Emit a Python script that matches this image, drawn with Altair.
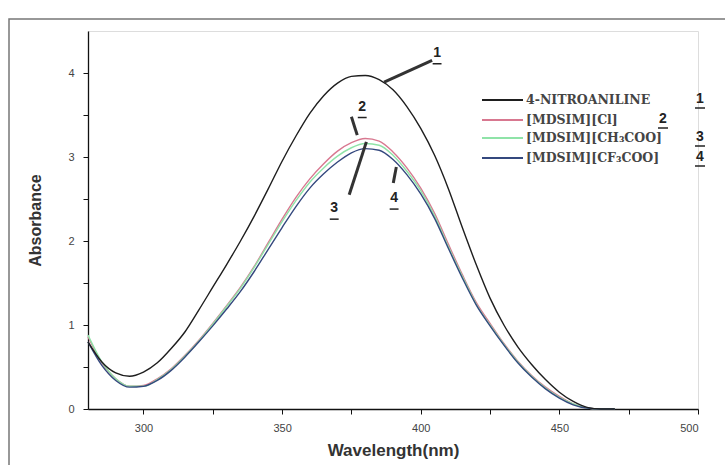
import altair as alt
import pandas as pd

# UV-Vis absorption spectra of 4-nitroaniline alone and with three ionic liquids
wavelength = [280, 285, 290, 295, 300, 305, 310, 315, 320, 325, 330, 335, 340,
              345, 350, 355, 360, 365, 370, 375, 380, 385, 390, 395, 400, 405,
              410, 415, 420, 425, 430, 435, 440, 445, 450, 455, 460, 465, 470]

a_nitroaniline = [0.80, 0.56, 0.43, 0.39, 0.44, 0.55, 0.72, 0.92, 1.18, 1.45, 1.72,
                  2.00, 2.30, 2.62, 2.95, 3.25, 3.52, 3.73, 3.88, 3.96, 3.97, 3.92,
                  3.80, 3.60, 3.34, 3.02, 2.62, 2.16, 1.72, 1.32, 1.00, 0.74, 0.53,
                  0.35, 0.20, 0.09, 0.02, 0.00, 0.00]
a_cl = [0.86, 0.55, 0.36, 0.27, 0.28, 0.36, 0.48, 0.64, 0.82, 1.02, 1.23, 1.45,
        1.70, 1.98, 2.26, 2.52, 2.74, 2.92, 3.07, 3.17, 3.22, 3.19, 3.06, 2.87,
        2.63, 2.33, 1.96, 1.60, 1.27, 1.02, 0.78, 0.57, 0.40, 0.26, 0.15, 0.06,
        0.01, 0.00, 0.00]
a_ch3coo = [0.88, 0.56, 0.36, 0.27, 0.27, 0.35, 0.47, 0.63, 0.81, 1.01, 1.22, 1.44,
            1.69, 1.96, 2.23, 2.48, 2.70, 2.87, 3.01, 3.11, 3.16, 3.14, 3.02, 2.83,
            2.60, 2.30, 1.93, 1.58, 1.25, 1.00, 0.77, 0.56, 0.39, 0.25, 0.14, 0.06,
            0.01, 0.00, 0.00]
a_cf3coo = [0.80, 0.52, 0.34, 0.26, 0.27, 0.34, 0.46, 0.62, 0.80, 0.99, 1.19, 1.40,
            1.64, 1.90, 2.16, 2.41, 2.63, 2.80, 2.94, 3.05, 3.10, 3.08, 2.97, 2.79,
            2.56, 2.27, 1.91, 1.56, 1.24, 0.99, 0.76, 0.55, 0.38, 0.24, 0.13, 0.05,
            0.01, 0.00, 0.00]

series_names = ["4-NITROANILINE", "[MDSIM][Cl]", "[MDSIM][CH\u2083COO]", "[MDSIM][CF\u2083COO]"]
series_numbers = ["1", "2", "3", "4"]
series_colors = ["#1e1e1e", "#d87890", "#8fe3a8", "#34487e"]
series_values = [a_nitroaniline, a_cl, a_ch3coo, a_cf3coo]

# callout numbers placed next to the curves (wavelength, absorbance)
callout_nm = [405.9, 378.9, 368.8, 390.4]
callout_abs = [4.24, 3.60, 2.39, 2.51]
# leader segments from the callout numbers to the curves
leader_nm = [386.8, 375.0, 374.2, 391.2]
leader_abs = [3.89, 3.48, 2.55, 2.88]
leader_nm2 = [404.1, 377.1, 380.4, 390.1]
leader_abs2 = [4.15, 3.26, 3.18, 2.69]

x_ticks = [300, 325, 350, 375, 400, 425, 450, 475, 500]
y_ticks = [0, 0.5, 1, 1.5, 2, 2.5, 3, 3.5, 4]

rows = []
for name, vals in zip(series_names, series_values):
    for w, a in zip(wavelength, vals):
        rows.append({"wavelength": w, "absorbance": a, "series": name})
spectra = pd.DataFrame(rows)

callouts = pd.DataFrame({"num": series_numbers, "nm": callout_nm, "abs": callout_abs,
                         "nm_lo": [v - 1.6 for v in callout_nm],
                         "nm_hi": [v + 1.6 for v in callout_nm],
                         "abs_ul": [v - 0.13 for v in callout_abs]})
leaders = pd.DataFrame({"x1": leader_nm, "y1": leader_abs, "x2": leader_nm2, "y2": leader_abs2})

W, H = 610, 378
x_scale = alt.Scale(domain=[280, 500], nice=False, zero=False)
y_scale = alt.Scale(domain=[0, 4.5], nice=False)

x_axis = alt.Axis(values=x_ticks,
                  labelExpr="datum.value % 50 == 0 ? format(datum.value, 'd') : ''",
                  title="Wavelength(nm)", grid=False, tickSize=5, labelPadding=8,
                  titlePadding=9, titleFontSize=17, titleFontWeight="bold",
                  titleColor="#333", labelFontSize=11, labelColor="#444",
                  domainColor="#111", tickColor="#111", domainWidth=1.3,
                  labelFont="Liberation Sans", titleFont="Liberation Sans")
y_axis = alt.Axis(values=y_ticks,
                  labelExpr="datum.value % 1 == 0 ? format(datum.value, 'd') : ''",
                  title="Absorbance", grid=False, tickSize=5, labelPadding=9,
                  titlePadding=24, titleFontSize=16, titleFontWeight="bold",
                  titleColor="#333", labelFontSize=11, labelColor="#444",
                  domainColor="#111", tickColor="#111", domainWidth=1.3,
                  labelFont="Liberation Sans", titleFont="Liberation Sans")

lines = []
for name, col in zip(series_names[1:] + series_names[:1], series_colors[1:] + series_colors[:1]):
    lines.append(
        alt.Chart(spectra).transform_filter(alt.datum.series == name)
        .mark_line(color=col, strokeWidth=1.4, interpolate="monotone")
        .encode(x=alt.X("wavelength:Q", scale=x_scale, axis=x_axis),
                y=alt.Y("absorbance:Q", scale=y_scale, axis=y_axis))
    )

leader_layer = alt.Chart(leaders).mark_rule(color="#333", strokeWidth=3).encode(
    x="x1:Q", y="y1:Q", x2="x2:Q", y2="y2:Q")
callout_text = alt.Chart(callouts).mark_text(
    font="Liberation Sans", fontSize=14, fontWeight="bold", color="#222", baseline="middle"
).encode(x="nm:Q", y="abs:Q", text="num:N")
callout_ul = alt.Chart(callouts).mark_rule(color="#222", strokeWidth=1.5).encode(
    x="nm_lo:Q", x2="nm_hi:Q", y="abs_ul:Q")

# legend drawn as sample lines, names and underlined numbers
one = alt.Data(values=[{"k": 0}])
legend_rows_y = [69, 89, 107, 127]
legend_num_x = [612, 575, 612, 612]
legend = []
for name, num, col, ly, nx in zip(series_names, series_numbers, series_colors,
                                  legend_rows_y, legend_num_x):
    legend.append(alt.Chart(one).mark_rule(color=col, strokeWidth=2).encode(
        x=alt.value(394), x2=alt.value(435), y=alt.value(ly)))
    legend.append(alt.Chart(one).mark_text(
        align="left", baseline="middle", font="DejaVu Serif", fontSize=12.5,
        fontWeight="bold", color="#444").encode(
        x=alt.value(438), y=alt.value(ly), text=alt.value(name)))
    legend.append(alt.Chart(one).mark_text(
        align="center", baseline="middle", font="Liberation Sans", fontSize=14,
        fontWeight="bold", color="#222").encode(
        x=alt.value(nx), y=alt.value(ly - 1), text=alt.value(num)))
    legend.append(alt.Chart(one).mark_rule(color="#222", strokeWidth=1.5).encode(
        x=alt.value(nx - 5), x2=alt.value(nx + 5), y=alt.value(ly + 8)))

frame = alt.Chart(one).mark_rect(fill=None, stroke="#777", strokeWidth=1.5).encode(
    x=alt.value(-79), x2=alt.value(650), y=alt.value(-12), y2=alt.value(450))

chart = alt.layer(frame, *lines, leader_layer, callout_text, callout_ul, *legend).properties(
    width=W, height=H,
    autosize=alt.AutoSizeParams(type="none"),
    padding={"left": 88, "top": 31, "right": 27, "bottom": 56},
).configure_view(stroke=None).configure(background="white")

chart.save("out.html", embed_options={"renderer": "svg", "actions": False})
